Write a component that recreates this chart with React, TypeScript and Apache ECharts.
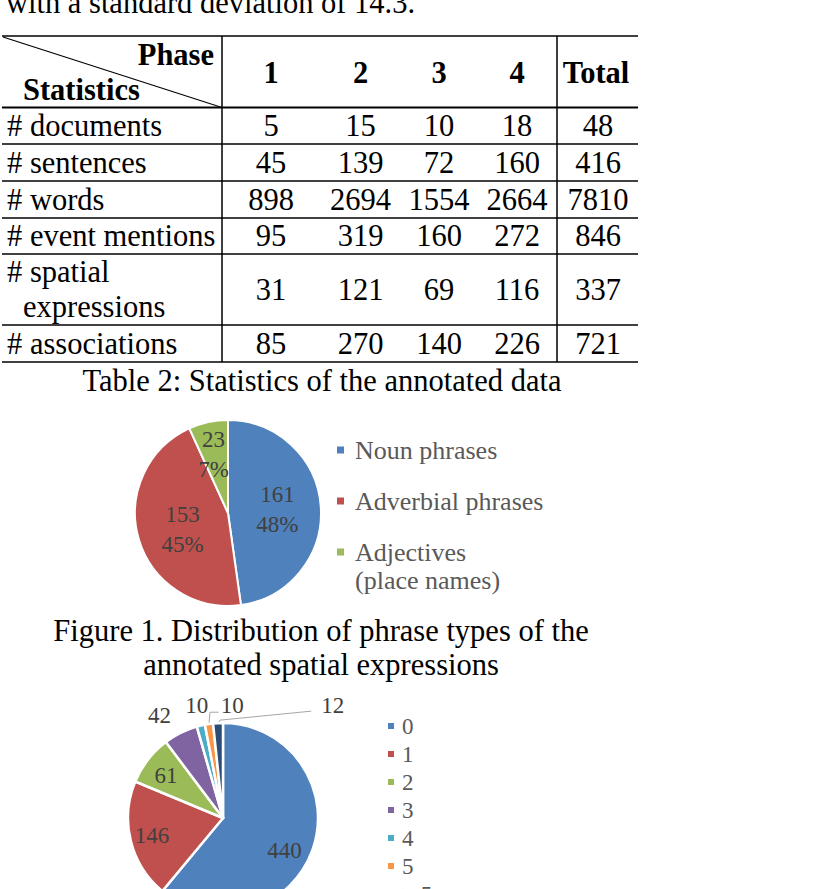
import React, { useEffect, useRef } from 'react';
import * as echarts from 'echarts';

// ---------- data ----------
const introLine = 'with a standard deviation of 14.3.';
const phaseHeader = 'Phase';
const statHeader = 'Statistics';
const phaseLabels = ['1', '2', '3', '4'];
const totalLabel = 'Total';
const statLabels = ['# documents', '# sentences', '# words', '# event mentions', '# spatial\nexpressions', '# associations'];
const docs = [5, 15, 10, 18];
const sentences = [45, 139, 72, 160];
const words = [898, 2694, 1554, 2664];
const eventMentions = [95, 319, 160, 272];
const spatialExpr = [31, 121, 69, 116];
const associations = [85, 270, 140, 226];
const totals = [48, 416, 7810, 846, 337, 721];
const tableCaption = 'Table 2: Statistics of the annotated data';

const phraseTypes = ['Noun phrases', 'Adverbial phrases', 'Adjectives\n(place names)'];
const phraseCounts = [161, 153, 23];
const figureCaption = ['Figure 1. Distribution of phrase types of the', 'annotated spatial expressions'];

const assocCategories = ['0', '1', '2', '3', '4', '5', '> 5'];
const assocCounts = [440, 146, 61, 42, 10, 10, 12];

// ---------- style ----------
const FONT = '"Liberation Serif", "Times New Roman", serif';
const COLORS = ['#4F81BD', '#C0504D', '#9BBB59', '#8064A2', '#4BACC6', '#F79646', '#2C4D75'];
const BODY = 30.5;

const rowValues = [docs, sentences, words, eventMentions, spatialExpr, associations];
const rowLines = [107.5, 144, 181, 218, 254, 325, 362];
const colCenters = [271, 360.5, 439, 517, 598];
const TL = 2, TR = 638, TT = 36;

function txt(text: string, x: number, y: number, o: any = {}) {
  return {
    type: 'text', x, y, silent: true,
    style: {
      text, fill: '#000', fontSize: o.size || BODY, fontFamily: FONT,
      fontWeight: o.bold ? 'bold' : 'normal',
      align: o.align || 'center', verticalAlign: 'middle',
      textAlign: o.align || 'center', textVerticalAlign: 'middle',
    },
  };
}
function ln(x1: number, y1: number, x2: number, y2: number, w = 1.5) {
  return { type: 'line', silent: true, shape: { x1, y1, x2, y2 }, style: { stroke: '#000', lineWidth: w } };
}

function buildGraphic() {
  const g: any[] = [];
  g.push(txt(introLine, 6, 3, { align: 'left' }));
  // table lines
  g.push(ln(TL, TT, TR, TT));
  g.push(ln(TL, rowLines[0], TR, rowLines[0], 2));
  for (let i = 1; i < rowLines.length; i++) g.push(ln(TL, rowLines[i], TR, rowLines[i]));
  g.push(ln(222, TT, 222, rowLines[rowLines.length - 1]));
  g.push(ln(557, TT, 557, rowLines[rowLines.length - 1]));
  g.push(ln(3, TT + 1, 222, rowLines[0], 1.2));
  // header
  g.push(txt(phaseHeader, 214, 55, { align: 'right', bold: true }));
  g.push(txt(statHeader, 23, 90, { align: 'left', bold: true }));
  phaseLabels.forEach((p, i) => g.push(txt(p, colCenters[i], 73, { bold: true })));
  g.push(txt(totalLabel, 596, 73, { bold: true }));
  // rows
  statLabels.forEach((lab, r) => {
    const cy = (rowLines[r] + rowLines[r + 1]) / 2;
    const parts = lab.split('\n');
    if (parts.length === 1) g.push(txt(lab, 7, cy, { align: 'left' }));
    else {
      g.push(txt(parts[0], 7, cy - 17.5, { align: 'left' }));
      g.push(txt(parts[1], 23, cy + 17.5, { align: 'left' }));
    }
    rowValues[r].forEach((v, c) => g.push(txt(String(v), colCenters[c], cy)));
    g.push(txt(String(totals[r]), colCenters[4], cy));
  });
  g.push(txt(tableCaption, 322, 381));
  g.push(txt(figureCaption[0], 321, 631));
  g.push(txt(figureCaption[1], 321, 665));
  return g;
}

const pie1Nudge = [{ dx: 0, dy: 0 }, { dx: 2, dy: 3 }, { dx: -4, dy: -10 }];
const pie2Nudge = [
  { dx: 14, dy: 15 }, { dx: -22, dy: 5 }, { dx: -17, dy: -12 },
  { dx: 2, dy: -4 }, { dx: 16, dy: -6 }, { dx: 42, dy: -4 }, { dx: 132, dy: -3 },
];

function buildOption(): any {
  const labelBase = { color: '#404040', fontSize: 23, fontFamily: FONT };
  const legendText1 = { fontSize: 26, fontFamily: FONT, color: '#595959', lineHeight: 28, padding: [0, 0, 0, 5] };
  return {
    animation: false,
    backgroundColor: '#fff',
    graphic: buildGraphic(),
    legend: [
      {
        orient: 'vertical', left: 335, top: 436, padding: 0, itemGap: 23,
        itemWidth: 9, itemHeight: 9, icon: 'rect', selectedMode: false,
        data: phraseTypes.slice(0, 2),
        textStyle: legendText1,
      },
      {
        orient: 'vertical', left: 335, top: 510, padding: 0,
        itemWidth: 9, itemHeight: 9, icon: 'rect', selectedMode: false,
        data: phraseTypes.slice(2),
        formatter: (name: string) => '\n' + name,
        textStyle: legendText1,
      },
      {
        orient: 'vertical', left: 386, top: 714.5, height: 260, padding: 0, itemGap: 5,
        itemWidth: 8, itemHeight: 8, icon: 'rect', selectedMode: false,
        data: assocCategories,
        textStyle: { fontSize: 23, fontFamily: FONT, color: '#595959', lineHeight: 23, padding: [0, 0, 0, 2] },
      },
    ],
    series: [
      {
        type: 'pie', name: 'Phrase types', center: [228, 513], radius: 93,
        startAngle: 90, clockwise: true, avoidLabelOverlap: false, silent: true,
        itemStyle: { borderColor: '#fff', borderWidth: 2 },
        label: {
          show: true, position: 'inside', ...labelBase, lineHeight: 30,
          formatter: (p: any) => `${p.value}\n${Math.round(p.percent)}%`,
        },
        labelLayout: (p: any) => pie1Nudge[p.dataIndex],
        data: phraseTypes.map((n, i) => ({ name: n, value: phraseCounts[i], itemStyle: { color: COLORS[i] } })),
      },
      {
        type: 'pie', name: 'Associations', center: [223, 818], radius: 95,
        startAngle: 90, clockwise: true, avoidLabelOverlap: false, silent: true,
        itemStyle: { borderColor: '#fff', borderWidth: 2.5 },
        label: { show: true, ...labelBase, formatter: '{c}' },
        labelLine: { show: false, length: 15, length2: 0, lineStyle: { color: '#A6A6A6', width: 1 } },
        labelLayout: (p: any) => {
          const n = pie2Nudge[p.dataIndex];
          const res: any = { dx: n.dx, dy: n.dy };
          if (p.dataIndex >= 5 && p.labelLinePoints && p.labelRect) {
            const s = p.labelLinePoints[0];
            const lr = p.labelRect;
            const left = lr.x + n.dx;
            const midY = lr.y + lr.height / 2 + n.dy;
            res.labelLinePoints = p.dataIndex === 5
              ? [[s[0], s[1]], [s[0] + 1, midY + 7], [left - 2, midY + 7]]
              : [[s[0], s[1]], [s[0] + 2, s[1] - 3], [left - 10, midY + 6]];
          }
          return res;
        },
        data: assocCategories.map((n, i) => ({
          name: n, value: assocCounts[i], itemStyle: { color: COLORS[i] },
          label: { position: i < 3 ? 'inside' : 'outside' },
          labelLine: { show: i >= 5 },
        })),
      },
    ],
  };
}

export default function App() {
  const ref = useRef<HTMLDivElement>(null);
  useEffect(() => {
    const chart = echarts.init(ref.current!, null, { renderer: 'svg' });
    chart.setOption(buildOption());
    return () => chart.dispose();
  }, []);
  return <div ref={ref} style={{ position: 'absolute', left: 0, top: 0, width: 836, height: 889 }} />;
}
